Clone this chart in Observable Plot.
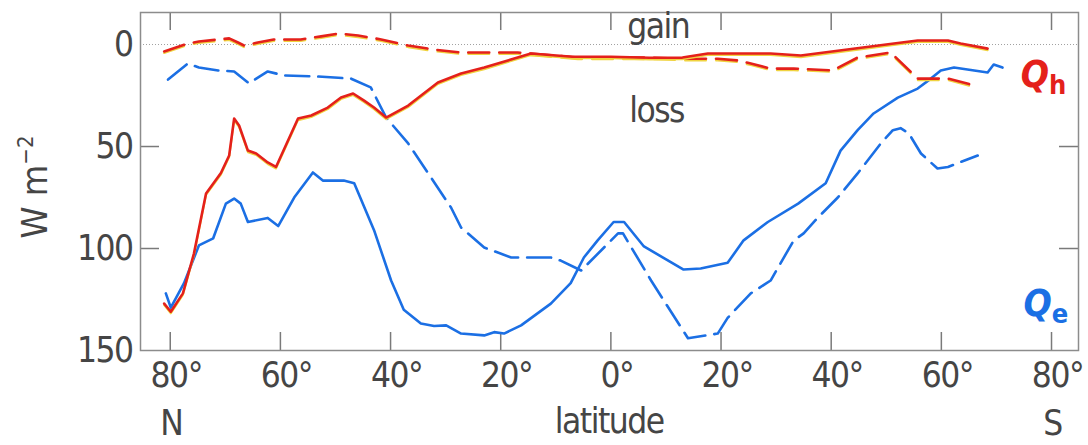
<!DOCTYPE html>
<html><head><meta charset="utf-8">
<script src="https://cdn.jsdelivr.net/npm/d3@7"></script>
<script src="https://cdn.jsdelivr.net/npm/@observablehq/plot@0.6"></script>
<style>
html,body{margin:0;padding:0;background:#fff;}
#chart svg{display:block;}
</style></head><body><div id="chart"></div>
<script>
// latitude: positive = N, negative = S ; values in W m-2 (loss positive, drawn downward)
const qhSolidLat = [81.1,79.9,77.7,75.7,73.5,70.8,69.3,68.4,67.5,65.9,64.4,62.3,60.8,56.8,54.4,51.4,49,46.8,44.8,43,40.8,36.8,31.4,27.2,23,14.5,7,0,-7,-13,-17.6,-29,-34.5,-51.4,-55.7,-61.2,-63.5,-68.4];
const qhSolidVal = [127,131,122,102.5,73,63,54.4,36.3,39.7,52,53.4,57.8,60,36.3,34.8,30.9,26,24,27.5,30.9,35.8,29.9,18.6,14.2,11.3,4.4,6,6,6.5,6.4,4.4,4.4,5.4,-0.5,-2,-2,-0.5,2];

const qhDashLat = [81.1,76.8,74.8,71.1,69.3,67.7,66.6,64.1,61.2,56.3,52.6,49.4,45.9,41.7,36.8,32.1,27.2,23,16.9,6,-7.3,-13.2,-19.4,-23,-25.4,-29,-33.2,-40.3,-44.8,-50.8,-55.7,-61.2,-65.9];
const qhDashVal = [3.4,-0.5,-1.5,-2.5,-3,-1,0.5,-1,-2.5,-2.5,-4,-5.4,-4.4,-2.5,0.5,2.5,3.9,3.9,3.9,6.4,6.4,7,7,7.8,9.3,11.8,11.8,12.7,6.4,3.9,16.7,16.7,20];

const qeSolidLat = [80.8,79.9,77.5,74.8,72.2,69.9,68.4,67.2,65.9,62.3,60.4,57.5,54.1,52.3,48.5,46.6,43,39.9,37.6,34.5,32.1,29.9,27.2,23,21.2,19.4,16.3,10.9,7.3,4.9,2.4,-0.5,-2.4,-6,-13.2,-16.3,-21.2,-24.1,-28.5,-34,-39,-41.7,-44.8,-47.7,-52.1,-55.7,-58.1,-59.9,-62.3,-68.4,-69.5,-71.1];
const qeSolidVal = [122,129,117,98.5,95,78,75.5,78,87,85,89,75,62.7,66.7,66.7,68,91,115.7,130,136.8,138,137.7,141.7,142.6,141,141.7,137.7,127,117,104.4,96,87,87,99,110.3,109.8,107,96,87,78,68,52,42,33.8,26,21.6,16.7,12.7,11.3,13.7,9.8,11.3];

const qeDashLat = [80.4,76.8,74.8,71.3,68.4,65.7,62.3,59.3,53.2,47.2,43.6,40.8,36.8,32.7,29,27.2,23,18.1,10.9,9.1,5.4,-1.3,-2.2,-7.3,-14,-19.4,-21.2,-25.4,-29,-33.2,-35,-37.6,-41.2,-44.8,-49,-51.2,-52.6,-54.1,-56.3,-59.3,-61.2,-66.6];
const qeDashVal = [17.2,9.3,11.3,12.7,13.2,19,13.2,15.2,15.7,16.7,21,35.8,48.5,65,80,89.7,99.5,104.4,104.4,105.9,110.8,92.6,92.6,115.7,144,141.7,134,122,115.7,96,92.6,84.8,75,63.2,48.5,42,41,43.6,53.4,60.8,60,54.4];

const xTicks = [80,60,40,20,0,-20,-40,-60,-80];
const yTicks = [0,50,100,150];
const yInnerTicks = [50,100];

const W = 1088, H = 445;
const FONT = '"Liberation Sans Narrow","DejaVu Sans Condensed","Liberation Sans",sans-serif';
const red = "#e4201b", blue = "#1b6fe4", ink = "#454545", shadow = "#f0d340";
const rows = (lat, val) => lat.map((x, i) => ({lat: x, v: val[i]}));
const qhSolid = rows(qhSolidLat, qhSolidVal);
const qhDash = rows(qhDashLat, qhDashVal);
const qeSolid = rows(qeSolidLat, qeSolidVal);
const qeDash = rows(qeDashLat, qeDashVal);

const xDom = [85.4, -84.9];
const yDom = [150, -15.7];
const pxY = 2.04, pxX = 5.51;

const plot = Plot.plot({
  width: W, height: H,
  marginLeft: 140, marginRight: 10, marginTop: 12, marginBottom: 95,
  style: {fontFamily: FONT, fontSize: "35px", color: ink, background: "#fff", overflow: "visible", letterSpacing: "-1.5px"},
  x: {domain: xDom},
  y: {domain: yDom},
  marks: [
    Plot.ruleY([0], {stroke: "#a0a0a0", strokeDasharray: "1,2", strokeWidth: 1}),
    Plot.ruleX(xTicks, {x: d => d, y1: yDom[1], y2: yDom[1] + 18 / pxY, stroke: "#7a7a7a", strokeWidth: 1.5}),
    Plot.ruleX(xTicks, {x: d => d, y1: yDom[0], y2: yDom[0] - 18 / pxY, stroke: "#7a7a7a", strokeWidth: 1.5}),
    Plot.ruleY(yInnerTicks, {y: d => d, x1: xDom[0], x2: xDom[0] - 19 / pxX, stroke: "#7a7a7a", strokeWidth: 1.5}),
    Plot.ruleY(yInnerTicks, {y: d => d, x1: xDom[1], x2: xDom[1] + 19 / pxX, stroke: "#7a7a7a", strokeWidth: 1.5}),
    Plot.frame({stroke: "#8c8c8c", strokeWidth: 1.5}),
    Plot.axisY(yTicks, {anchor: "left", tickSize: 0, tickPadding: 8, label: null}),
    Plot.axisX(xTicks, {anchor: "bottom", tickSize: 0, tickPadding: 12, label: null, dx: 6, tickFormat: d => Math.abs(d) + "°"}),
    // Q_e
    Plot.line(qeDash, {x: "lat", y: "v", stroke: blue, strokeWidth: 2.6, strokeDasharray: "24,9", curve: "linear"}),
    Plot.line(qeSolid, {x: "lat", y: "v", stroke: blue, strokeWidth: 2.6, curve: "linear"}),
    // Q_h (with the yellow print edge)
    Plot.line(qhDash, {x: "lat", y: "v", stroke: shadow, strokeWidth: 2, dy: 1.6, strokeDasharray: "21,10"}),
    Plot.line(qhDash, {x: "lat", y: "v", stroke: red, strokeWidth: 2.6, strokeDasharray: "21,10"}),
    Plot.line(qhSolid, {x: "lat", y: "v", stroke: shadow, strokeWidth: 2, dy: 1.6}),
    Plot.line(qhSolid, {x: "lat", y: "v", stroke: red, strokeWidth: 2.6}),
    // annotations
    Plot.text(["gain"], {x: () => -8.6, y: () => -3.0, text: d => d, textAnchor: "middle", lineAnchor: "bottom", fill: ink}),
    Plot.text(["loss"], {x: () => -8.3, y: () => 38.0, text: d => d, textAnchor: "middle", lineAnchor: "bottom", fill: ink}),
    Plot.text(["latitude"], {x: () => 0.3, frameAnchor: "bottom", text: d => d, textAnchor: "middle", lineAnchor: "bottom", dy: 82, fill: ink}),
    Plot.text(["N", "S"], {x: d => d === "N" ? 80 : -80, frameAnchor: "bottom", text: d => d, textAnchor: "middle", lineAnchor: "bottom", dy: 84, dx: 1, fill: ink})
  ]
});

document.getElementById("chart").appendChild(plot);

// Axis title and series labels with sub/superscripts
const svg = d3.select(plot);
const xs = plot.scale("x"), ys = plot.scale("y");
const yl = svg.append("text")
  .attr("transform", "translate(47,187) rotate(-90)")
  .attr("text-anchor", "middle")
  .attr("fill", ink)
  .style("font-family", FONT).style("font-size", "36px").style("letter-spacing", "0px");
yl.append("tspan").text("W m");
yl.append("tspan").attr("dy", -14).style("font-size", "22px").text("\u22122");

function seriesLabel(letter, sub, lat, val, color) {
  const t = svg.append("text")
    .attr("x", xs.apply(lat)).attr("y", ys.apply(val))
    .attr("text-anchor", "start")
    .attr("fill", color)
    .style("font-family", FONT).style("font-weight", "bold").style("letter-spacing", "0px");
  t.append("tspan").style("font-style", "italic").style("font-size", "37px").text(letter);
  t.append("tspan").attr("dy", 7).style("font-size", "27px").text(sub);
}
seriesLabel("Q", "h", -74.5, 21.0, red);
seriesLabel("Q", "e", -75.0, 133.5, blue);
</script>
</body></html>
